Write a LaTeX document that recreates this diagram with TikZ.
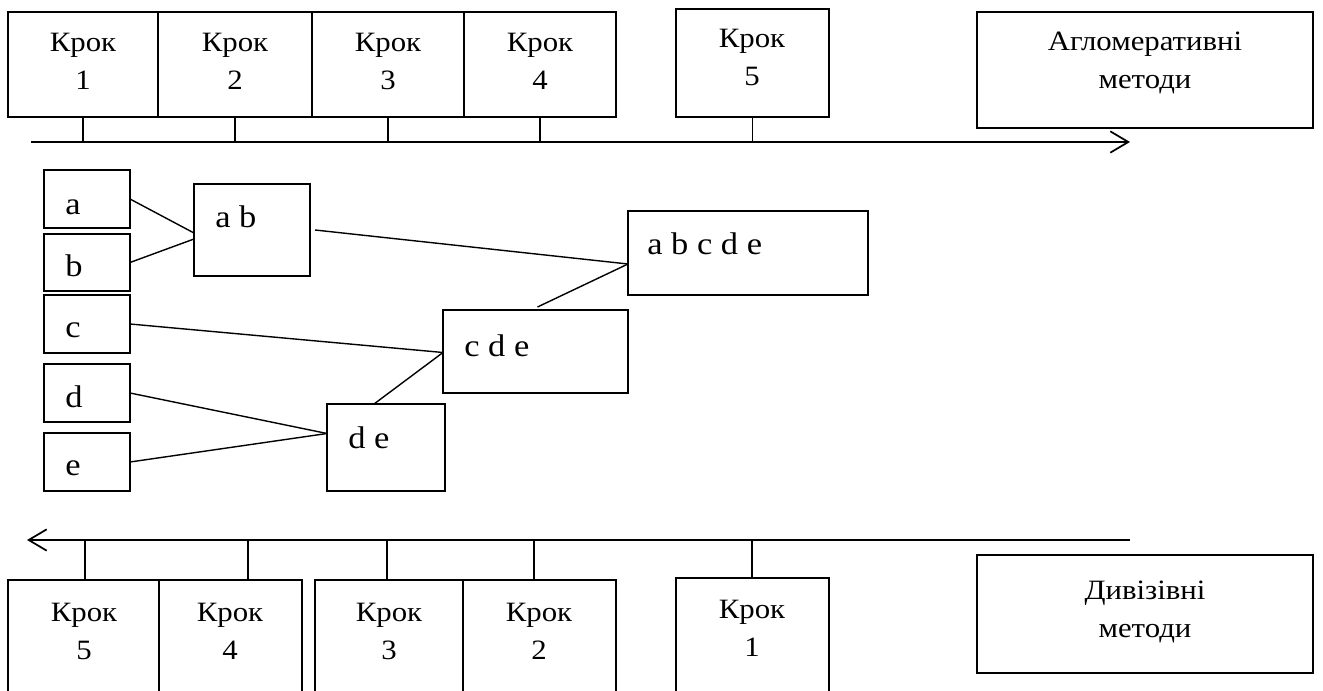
\documentclass[tikz,border=0pt]{standalone}
\usepackage{fontspec}
\setmainfont{Liberation Serif}[FakeStretch=1.1]
\usetikzlibrary{arrows.meta,calc,fit}
\tikzset{
  box/.style={draw, line width=1.35pt, inner sep=0pt, outer sep=0pt, rectangle},
  lbl/.style={inner sep=0pt, align=center, anchor=north, font=\fontsize{21}{28.5}\selectfont},
  mlbl/.style={inner sep=0pt, anchor=base west, font=\fontsize{23.5}{27}\selectfont},
  conn/.style={line width=1.05pt},
  axis/.style={line width=1.6pt},
  barb/.style={-{Straight Barb[length=13.5pt,width=16pt,line width=1.3pt]}}
}
\begin{document}
\begin{tikzpicture}[x=0.75pt,y=-0.75pt]
\useasboundingbox (0,0) rectangle (1323,691);
\clip (0,0) rectangle (1323,691);
% top row
\node[box, fit={(8,12)(158,117)}] (s1) {};
\node[box, fit={(158,12)(312,117)}] (s2) {};
\node[box, fit={(312,12)(464,117)}] (s3) {};
\node[box, fit={(464,12)(616,117)}] (s4) {};
\node[box, fit={(676,9)(829,117)}] (s5) {};
\node[box, fit={(977,12)(1313,128)}] (agg) {};
\node[lbl] (ts1) at (83,33) {Крок\\1};
\node[lbl] (ts2) at (235,33) {Крок\\2};
\node[lbl] (ts3) at (388,33) {Крок\\3};
\node[lbl] (ts4) at (540,33) {Крок\\4};
\node[lbl] (ts5) at (752,29) {Крок\\5};
\node[lbl] (tagg) at (1145,32) {Агломеративні\\методи};
\coordinate (ax1) at (31,142);
\coordinate (ax2) at (1130,142);
\draw[axis,barb] (ax1) -- (ax2);
\foreach \n in {s1,s2,s3,s4,s5}{\draw[conn] (\n.south) -- (\n.south |- ax1);}
% middle
\node[box, fit={(44,170)(130,228)}] (a) {};
\node[box, fit={(44,234)(130,291)}] (b) {};
\node[box, fit={(44,295)(130,353)}] (c) {};
\node[box, fit={(44,364)(130,422)}] (d) {};
\node[box, fit={(44,433)(130,491)}] (e) {};
\node[box, fit={(194,184)(310,276)}] (ab) {};
\node[box, fit={(628,211)(868,295)}] (abcde) {};
\node[box, fit={(443,310)(628,393)}] (cde) {};
\node[box, fit={(327,404)(445,491)}] (de) {};
\node[mlbl] (ta) at (65,215) {a};
\node[mlbl] (tb) at (65,277) {b};
\node[mlbl] (tc) at (65,338) {c};
\node[mlbl] (td) at (65,407) {d};
\node[mlbl] (te) at (65,475) {e};
\node[mlbl] (tab) at (215,228) {a b};
\node[mlbl] (tabcde) at (647,255) {a b c d e};
\node[mlbl] (tcde) at (464,356) {c d e};
\node[mlbl] (tde) at (348,448) {d e};
\draw[conn] (a.east) -- ($(ab.west)+(0,3)$);
\draw[conn] (b.east) -- ($(ab.west)+(0,9)$);
\draw[conn] ($(ab.east)+(5,0)$) -- ($(abcde.west)+(0,11)$);
\draw[conn] ($(cde.north)+(2,-3)$) -- ($(abcde.west)+(0,11)$);
\draw[conn] (c.east) -- ($(cde.west)+(0,1)$);
\draw[conn] ($(de.north)+(-12,0)$) -- ($(cde.west)+(0,1)$);
\draw[conn] (d.east) -- ($(de.west)+(0,-14)$);
\draw[conn] (e.east) -- ($(de.west)+(0,-14)$);
% bottom row
\node[box, fit={(8,580)(159,700)}] (b5) {};
\node[box, fit={(159,580)(302,700)}] (b4) {};
\node[box, fit={(315,580)(463,700)}] (b3) {};
\node[box, fit={(463,580)(616,700)}] (b2) {};
\node[box, fit={(676,578)(829,700)}] (b1) {};
\node[box, fit={(977,555)(1313,673)}] (div) {};
\node[lbl] (tb5) at (84,603) {Крок\\5};
\node[lbl] (tb4) at (230,603) {Крок\\4};
\node[lbl] (tb3) at (389,603) {Крок\\3};
\node[lbl] (tb2) at (539,603) {Крок\\2};
\node[lbl] (tb1) at (752,600) {Крок\\1};
\node[lbl] (tdiv) at (1145,581) {Дивізівні\\методи};
\coordinate (bx1) at (1130,540);
\coordinate (bx2) at (27,540);
\draw[axis,barb] (bx1) -- (bx2);
\coordinate (k5) at (85,540);
\coordinate (k4) at (248,540);
\coordinate (k3) at (387,540);
\coordinate (k2) at (534,540);
\coordinate (k1) at (752,540);
\draw[conn] (k5) -- (b5.north -| k5);
\draw[conn] (k4) -- (b4.north -| k4);
\draw[conn] (k3) -- (b3.north -| k3);
\draw[conn] (k2) -- (b2.north -| k2);
\draw[conn] (k1) -- (b1.north -| k1);
\end{tikzpicture}
\end{document}
